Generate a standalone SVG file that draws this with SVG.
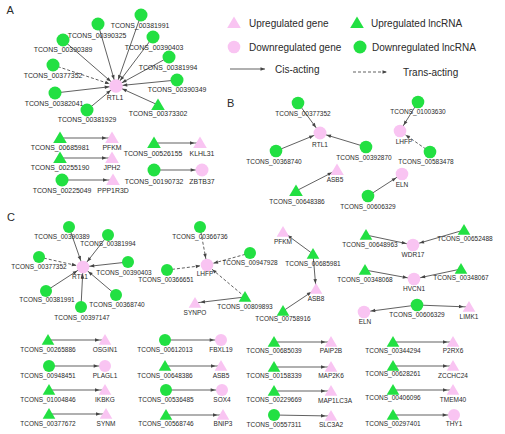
<svg xmlns="http://www.w3.org/2000/svg" width="505" height="434" viewBox="0 0 505 434">
<style>
text{font-family:"Liberation Sans",Arial,sans-serif;fill:#2a2a2a}
.na{font-size:6.9px;text-anchor:middle}
.nc{font-size:6.5px;text-anchor:middle}
.lg{font-size:10px}
.pl{font-size:11px}
.g{fill:#22e042}
.p{fill:#f9c4f2}
.s{stroke:#454545;stroke-width:0.85;fill:none}
.d{stroke:#454545;stroke-width:0.85;fill:none;stroke-dasharray:3 2}
</style>
<defs>
<path id="tri" d="M0,-6.5 L6.8,5 L-6.8,5 Z"/>
<path id="tris" d="M0,-6 L6.3,4.8 L-6.3,4.8 Z"/>
<marker id="ac" markerUnits="userSpaceOnUse" markerWidth="12" markerHeight="4" refX="11.3" refY="1.75" orient="auto" overflow="visible"><path d="M0,0 L4.5,1.75 L0,3.5 Z" fill="#454545"/></marker>
<marker id="at" markerUnits="userSpaceOnUse" markerWidth="12" markerHeight="4" refX="10" refY="1.75" orient="auto" overflow="visible"><path d="M0,0 L4.5,1.75 L0,3.5 Z" fill="#454545"/></marker>
<marker id="a0" markerUnits="userSpaceOnUse" markerWidth="5" markerHeight="4" refX="4.5" refY="1.75" orient="auto" overflow="visible"><path d="M0,0 L4.5,1.75 L0,3.5 Z" fill="#454545"/></marker>
</defs>
<rect width="505" height="434" fill="#fff"/>
<text class="pl" x="6.5" y="13.5">A</text>
<text class="pl" x="227" y="107">B</text>
<text class="pl" x="7" y="221">C</text>
<g id="legend">
<use href="#tri" class="p" x="234" y="23"/>
<text class="lg" x="249" y="27">Upregulated gene</text>
<use href="#tri" class="g" x="357" y="23"/>
<text class="lg" x="371" y="27">Upregulated lncRNA</text>
<circle class="p" cx="234" cy="47" r="6.3"/>
<text class="lg" x="249" y="50.5">Downregulated gene</text>
<circle class="g" cx="360" cy="47" r="6.5"/>
<text class="lg" x="372" y="50.5">Downregulated lncRNA</text>
<line class="s" x1="230" y1="69" x2="265" y2="69" marker-end="url(#a0)"/>
<text class="lg" x="275" y="73">Cis-acting</text>
<line class="d" x1="353" y1="72" x2="387" y2="72" marker-end="url(#a0)"/>
<text class="lg" x="403" y="75.5">Trans-acting</text>
</g>
<g id="connectors">
<line class="s" x1="141" y1="15" x2="116" y2="86" marker-end="url(#ac)"/>
<line class="s" x1="98" y1="24" x2="116" y2="86" marker-end="url(#ac)"/>
<line class="s" x1="63" y1="40" x2="116" y2="86" marker-end="url(#ac)"/>
<line class="s" x1="153" y1="37" x2="116" y2="86" marker-end="url(#ac)"/>
<line class="s" x1="169" y1="57" x2="116" y2="86" marker-end="url(#ac)"/>
<line class="d" x1="53" y1="65" x2="116" y2="86" marker-end="url(#ac)"/>
<line class="s" x1="177" y1="80" x2="116" y2="86" marker-end="url(#ac)"/>
<line class="s" x1="55" y1="93" x2="116" y2="86" marker-end="url(#ac)"/>
<line class="s" x1="87" y1="110" x2="116" y2="86" marker-end="url(#ac)"/>
<line class="s" x1="158" y1="105" x2="116" y2="86" marker-end="url(#ac)"/>
<line class="s" x1="60" y1="138" x2="112" y2="138" marker-end="url(#at)"/>
<line class="s" x1="60" y1="158" x2="112" y2="158" marker-end="url(#at)"/>
<line class="s" x1="62" y1="180" x2="113" y2="180" marker-end="url(#at)"/>
<line class="s" x1="154" y1="143" x2="200" y2="143" marker-end="url(#at)"/>
<line class="s" x1="154" y1="170" x2="202" y2="170" marker-end="url(#ac)"/>
<line class="s" x1="298" y1="103" x2="320" y2="133" marker-end="url(#ac)"/>
<line class="s" x1="276" y1="151" x2="320" y2="133" marker-end="url(#ac)"/>
<line class="s" x1="366" y1="147" x2="320" y2="133" marker-end="url(#ac)"/>
<line class="s" x1="296" y1="191" x2="337" y2="170" marker-end="url(#at)"/>
<line class="s" x1="418" y1="102" x2="400" y2="131" marker-end="url(#ac)"/>
<line class="d" x1="430" y1="152" x2="400" y2="131" marker-end="url(#ac)"/>
<line class="s" x1="368" y1="196" x2="402" y2="174" marker-end="url(#ac)"/>
<line class="s" x1="69" y1="227" x2="83" y2="267" marker-end="url(#ac)"/>
<line class="s" x1="108" y1="235" x2="83" y2="267" marker-end="url(#ac)"/>
<line class="d" x1="39" y1="257" x2="83" y2="267" marker-end="url(#ac)"/>
<line class="s" x1="128" y1="262" x2="83" y2="267" marker-end="url(#ac)"/>
<line class="s" x1="46" y1="291" x2="83" y2="267" marker-end="url(#ac)"/>
<line class="s" x1="116" y1="295" x2="83" y2="267" marker-end="url(#ac)"/>
<line class="s" x1="81" y1="307" x2="83" y2="267" marker-end="url(#ac)"/>
<line class="d" x1="200" y1="227" x2="207" y2="265" marker-end="url(#ac)"/>
<line class="d" x1="250" y1="253" x2="207" y2="265" marker-end="url(#ac)"/>
<line class="d" x1="167" y1="270" x2="207" y2="265" marker-end="url(#ac)"/>
<line class="d" x1="245" y1="297" x2="207" y2="265" marker-end="url(#ac)"/>
<line class="s" x1="245" y1="297" x2="195" y2="303" marker-end="url(#at)"/>
<line class="s" x1="313" y1="254" x2="283" y2="232" marker-end="url(#at)"/>
<line class="s" x1="313" y1="254" x2="316" y2="289" marker-end="url(#at)"/>
<line class="s" x1="283" y1="311" x2="316" y2="289" marker-end="url(#at)"/>
<line class="s" x1="366" y1="235" x2="413" y2="245" marker-end="url(#ac)"/>
<line class="s" x1="464" y1="230" x2="413" y2="245" marker-end="url(#ac)"/>
<line class="s" x1="365" y1="270" x2="414" y2="279" marker-end="url(#ac)"/>
<line class="s" x1="461" y1="269" x2="414" y2="279" marker-end="url(#ac)"/>
<line class="s" x1="417" y1="305" x2="364" y2="312" marker-end="url(#ac)"/>
<line class="s" x1="417" y1="305" x2="469" y2="307" marker-end="url(#at)"/>
<line class="s" x1="48" y1="340" x2="105" y2="340" marker-end="url(#at)"/>
<line class="s" x1="49" y1="366" x2="105" y2="366" marker-end="url(#ac)"/>
<line class="s" x1="49" y1="390" x2="105" y2="390" marker-end="url(#at)"/>
<line class="s" x1="49" y1="414" x2="106" y2="414" marker-end="url(#at)"/>
<line class="s" x1="165" y1="340" x2="221" y2="340" marker-end="url(#ac)"/>
<line class="s" x1="165" y1="366" x2="221" y2="366" marker-end="url(#at)"/>
<line class="s" x1="166" y1="390" x2="222" y2="390" marker-end="url(#ac)"/>
<line class="s" x1="166" y1="415" x2="223" y2="415" marker-end="url(#at)"/>
<line class="s" x1="274" y1="342" x2="331" y2="342" marker-end="url(#at)"/>
<line class="s" x1="274" y1="367" x2="331" y2="367" marker-end="url(#at)"/>
<line class="s" x1="274" y1="391" x2="331" y2="391" marker-end="url(#at)"/>
<line class="s" x1="274" y1="415" x2="331" y2="416" marker-end="url(#at)"/>
<line class="s" x1="393" y1="342" x2="453" y2="342" marker-end="url(#at)"/>
<line class="s" x1="393" y1="366" x2="453" y2="366" marker-end="url(#at)"/>
<line class="s" x1="393" y1="390" x2="453" y2="390" marker-end="url(#at)"/>
<line class="s" x1="393" y1="415" x2="454" y2="415" marker-end="url(#ac)"/>
</g>
<!-- Panel A -->
<g id="A-RTL1"><circle class="p" cx="116" cy="86" r="6.8"/><text class="na" x="115" y="99.5">RTL1</text></g>
<g id="A-TCONS_00381991"><circle class="g" cx="141" cy="15" r="6.5"/><text class="na" x="140" y="27.5">TCONS_00381991</text></g>
<g id="A-TCONS_00390325"><circle class="g" cx="98" cy="24" r="6.5"/><text class="na" x="97" y="37.5">TCONS_00390325</text></g>
<g id="A-TCONS_00390389"><circle class="g" cx="63" cy="40" r="6.5"/><text class="na" x="63" y="51.5">TCONS_00390389</text></g>
<g id="A-TCONS_00390403"><circle class="g" cx="153" cy="37" r="6.5"/><text class="na" x="154" y="49.5">TCONS_00390403</text></g>
<g id="A-TCONS_00381994"><circle class="g" cx="169" cy="57" r="6.5"/><text class="na" x="168" y="69.5">TCONS_00381994</text></g>
<g id="A-TCONS_00377352"><circle class="g" cx="53" cy="65" r="6.5"/><text class="na" x="53" y="77.5">TCONS_00377352</text></g>
<g id="A-TCONS_00390349"><circle class="g" cx="177" cy="80" r="6.5"/><text class="na" x="177" y="91.5">TCONS_00390349</text></g>
<g id="A-TCONS_00382041"><circle class="g" cx="55" cy="93" r="6.5"/><text class="na" x="54" y="105.5">TCONS_00382041</text></g>
<g id="A-TCONS_00381929"><circle class="g" cx="87" cy="110" r="6.5"/><text class="na" x="87" y="121.5">TCONS_00381929</text></g>
<g id="A-TCONS_00373302"><use href="#tri" class="g" x="158" y="105"/><text class="na" x="158" y="115.5">TCONS_00373302</text></g>
<g id="A-TCONS_00685981"><use href="#tri" class="g" x="60" y="138"/><text class="na" x="60" y="149.5">TCONS_00685981</text></g>
<g id="A-PFKM"><use href="#tri" class="p" x="112" y="138"/><text class="na" x="112" y="149.5">PFKM</text></g>
<g id="A-TCONS_00255190"><use href="#tri" class="g" x="60" y="158"/><text class="na" x="60" y="169.5">TCONS_00255190</text></g>
<g id="A-JPH2"><use href="#tri" class="p" x="112" y="158"/><text class="na" x="112" y="169.5">JPH2</text></g>
<g id="A-TCONS_00225049"><circle class="g" cx="62" cy="180" r="6.5"/><text class="na" x="62" y="192.5">TCONS_00225049</text></g>
<g id="A-PPP1R3D"><use href="#tri" class="p" x="113" y="180"/><text class="na" x="113" y="192.5">PPP1R3D</text></g>
<g id="A-TCONS_00526155"><use href="#tri" class="g" x="154" y="143"/><text class="na" x="153" y="155.5">TCONS_00526155</text></g>
<g id="A-KLHL31"><use href="#tri" class="p" x="200" y="143"/><text class="na" x="202" y="155.5">KLHL31</text></g>
<g id="A-TCONS_00190732"><circle class="g" cx="154" cy="170" r="6.5"/><text class="na" x="154" y="183.5">TCONS_00190732</text></g>
<g id="A-ZBTB37"><circle class="p" cx="202" cy="170" r="6.5"/><text class="na" x="202" y="183.5">ZBTB37</text></g>
<!-- Panel B -->
<g id="B-TCONS_00377352"><circle class="g" cx="298" cy="103" r="6.3"/><text class="nc" x="303" y="115.5">TCONS_00377352</text></g>
<g id="B-RTL1"><circle class="p" cx="320" cy="133" r="6.5"/><text class="nc" x="320" y="146.5">RTL1</text></g>
<g id="B-TCONS_00368740"><circle class="g" cx="276" cy="151" r="6.3"/><text class="nc" x="274" y="163.5">TCONS_00368740</text></g>
<g id="B-TCONS_00392870"><circle class="g" cx="366" cy="147" r="6.3"/><text class="nc" x="364" y="159.5">TCONS_00392870</text></g>
<g id="B-ASB5"><use href="#tri" class="p" x="337" y="170"/><text class="nc" x="335" y="181.5">ASB5</text></g>
<g id="B-TCONS_00648386"><use href="#tri" class="g" x="296" y="191"/><text class="nc" x="297" y="203.5">TCONS_00648386</text></g>
<g id="B-TCONS_01003630"><circle class="g" cx="418" cy="102" r="6.3"/><text class="nc" x="418" y="113.5">TCONS_01003630</text></g>
<g id="B-LHFP"><circle class="p" cx="400" cy="131" r="6.3"/><text class="nc" x="404" y="143.5">LHFP</text></g>
<g id="B-TCONS_00583478"><circle class="g" cx="430" cy="152" r="6.3"/><text class="nc" x="426" y="163.5">TCONS_00583478</text></g>
<g id="B-ELN"><circle class="p" cx="402" cy="174" r="6.3"/><text class="nc" x="402" y="186.5">ELN</text></g>
<g id="B-TCONS_00606329"><circle class="g" cx="368" cy="196" r="6.3"/><text class="nc" x="368" y="208.5">TCONS_00606329</text></g>
<!-- Panel C -->
<g id="C-RTL1"><circle class="p" cx="83" cy="267" r="6.3"/><text class="nc" x="80" y="278.5">RTL1</text></g>
<g id="C-TCONS_00390389"><circle class="g" cx="69" cy="227" r="6"/><text class="nc" x="62" y="238.5">TCONS_00390389</text></g>
<g id="C-TCONS_00381994"><circle class="g" cx="108" cy="235" r="6"/><text class="nc" x="108" y="245.5">TCONS_00381994</text></g>
<g id="C-TCONS_00377352"><circle class="g" cx="39" cy="257" r="6"/><text class="nc" x="39" y="268.5">TCONS_00377352</text></g>
<g id="C-TCONS_00390403"><circle class="g" cx="128" cy="262" r="6"/><text class="nc" x="124" y="274.5">TCONS_00390403</text></g>
<g id="C-TCONS_00381991"><circle class="g" cx="46" cy="291" r="6"/><text class="nc" x="47" y="301.5">TCONS_00381991</text></g>
<g id="C-TCONS_00368740"><circle class="g" cx="116" cy="295" r="6"/><text class="nc" x="117" y="306.5">TCONS_00368740</text></g>
<g id="C-TCONS_00397147"><circle class="g" cx="81" cy="307" r="6"/><text class="nc" x="82" y="319.5">TCONS_00397147</text></g>
<g id="C-TCONS_00366651"><circle class="g" cx="167" cy="270" r="6"/><text class="nc" x="166" y="281.5">TCONS_00366651</text></g>
<g id="C-LHFP"><circle class="p" cx="207" cy="265" r="6.3"/><text class="nc" x="205" y="275.5">LHFP</text></g>
<g id="C-TCONS_00366736"><circle class="g" cx="200" cy="227" r="6"/><text class="nc" x="200" y="238.5">TCONS_00366736</text></g>
<g id="C-TCONS_00947928"><circle class="g" cx="250" cy="253" r="6"/><text class="nc" x="250" y="264.5">TCONS_00947928</text></g>
<g id="C-TCONS_00809893"><use href="#tris" class="g" x="245" y="297"/><text class="nc" x="245" y="308.5">TCONS_00809893</text></g>
<g id="C-SYNPO"><use href="#tris" class="p" x="195" y="303"/><text class="nc" x="195" y="314.5">SYNPO</text></g>
<g id="C-PFKM"><use href="#tris" class="p" x="283" y="232"/><text class="nc" x="283" y="243.5">PFKM</text></g>
<g id="C-TCONS_00685981"><use href="#tris" class="g" x="313" y="254"/><text class="nc" x="313" y="265.5">TCONS_00685981</text></g>
<g id="C-ASB8"><use href="#tris" class="p" x="316" y="289"/><text class="nc" x="316" y="300.5">ASB8</text></g>
<g id="C-TCONS_00758916"><use href="#tris" class="g" x="283" y="311"/><text class="nc" x="283" y="321">TCONS_00758916</text></g>
<g id="C-TCONS_00648963"><use href="#tris" class="g" x="366" y="235"/><text class="nc" x="370" y="246.5">TCONS_00648963</text></g>
<g id="C-WDR17"><circle class="p" cx="413" cy="245" r="6.3"/><text class="nc" x="413" y="256.5">WDR17</text></g>
<g id="C-TCONS_00652488"><use href="#tris" class="g" x="464" y="230"/><text class="nc" x="465" y="240.5">TCONS_00652488</text></g>
<g id="C-TCONS_00348068"><use href="#tris" class="g" x="365" y="270"/><text class="nc" x="365" y="281.5">TCONS_00348068</text></g>
<g id="C-HVCN1"><circle class="p" cx="414" cy="279" r="6.3"/><text class="nc" x="414" y="290.5">HVCN1</text></g>
<g id="C-TCONS_00348067"><use href="#tris" class="g" x="461" y="269"/><text class="nc" x="461" y="279.5">TCONS_00348067</text></g>
<g id="C-TCONS_00606329"><circle class="g" cx="417" cy="305" r="6.3"/><text class="nc" x="417" y="316.5">TCONS_00606329</text></g>
<g id="C-ELN"><circle class="p" cx="364" cy="312" r="6.3"/><text class="nc" x="365" y="324">ELN</text></g>
<g id="C-LIMK1"><use href="#tris" class="p" x="469" y="307"/><text class="nc" x="469" y="318.5">LIMK1</text></g>
<g id="C-TCONS_00265886"><use href="#tris" class="g" x="48" y="340"/><text class="nc" x="48" y="351.5">TCONS_00265886</text></g>
<g id="C-OSGIN1"><use href="#tris" class="p" x="105" y="340"/><text class="nc" x="105" y="351.5">OSGIN1</text></g>
<g id="C-TCONS_00948451"><circle class="g" cx="49" cy="366" r="6"/><text class="nc" x="48" y="377.5">TCONS_00948451</text></g>
<g id="C-PLAGL1"><circle class="p" cx="105" cy="366" r="6"/><text class="nc" x="105" y="377.5">PLAGL1</text></g>
<g id="C-TCONS_01004846"><use href="#tris" class="g" x="49" y="390"/><text class="nc" x="48" y="401.5">TCONS_01004846</text></g>
<g id="C-IKBKG"><use href="#tris" class="p" x="105" y="390"/><text class="nc" x="105" y="401.5">IKBKG</text></g>
<g id="C-TCONS_00377672"><use href="#tris" class="g" x="49" y="414"/><text class="nc" x="48" y="425.5">TCONS_00377672</text></g>
<g id="C-SYNM"><use href="#tris" class="p" x="106" y="414"/><text class="nc" x="106" y="425.5">SYNM</text></g>
<g id="C-TCONS_00612013"><circle class="g" cx="165" cy="340" r="6"/><text class="nc" x="165" y="351.5">TCONS_00612013</text></g>
<g id="C-FBXL19"><circle class="p" cx="221" cy="340" r="6"/><text class="nc" x="221" y="351.5">FBXL19</text></g>
<g id="C-TCONS_00648386"><use href="#tris" class="g" x="165" y="366"/><text class="nc" x="165" y="377.5">TCONS_00648386</text></g>
<g id="C-ASB5"><use href="#tris" class="p" x="221" y="366"/><text class="nc" x="221" y="377.5">ASB5</text></g>
<g id="C-TCONS_00536485"><circle class="g" cx="166" cy="390" r="6"/><text class="nc" x="166" y="401.5">TCONS_00536485</text></g>
<g id="C-SOX4"><circle class="p" cx="222" cy="390" r="6"/><text class="nc" x="222" y="401.5">SOX4</text></g>
<g id="C-TCONS_00568746"><use href="#tris" class="g" x="166" y="415"/><text class="nc" x="166" y="426">TCONS_00568746</text></g>
<g id="C-BNIP3"><use href="#tris" class="p" x="223" y="415"/><text class="nc" x="223" y="426">BNIP3</text></g>
<g id="C-TCONS_00685039"><use href="#tris" class="g" x="274" y="342"/><text class="nc" x="274" y="352.5">TCONS_00685039</text></g>
<g id="C-PAIP2B"><use href="#tris" class="p" x="331" y="342"/><text class="nc" x="331" y="353">PAIP2B</text></g>
<g id="C-TCONS_00158339"><use href="#tris" class="g" x="274" y="367"/><text class="nc" x="274" y="377.5">TCONS_00158339</text></g>
<g id="C-MAP2K6"><use href="#tris" class="p" x="331" y="367"/><text class="nc" x="331" y="378">MAP2K6</text></g>
<g id="C-TCONS_00229669"><use href="#tris" class="g" x="274" y="391"/><text class="nc" x="274" y="401.5">TCONS_00229669</text></g>
<g id="C-MAP1LC3A"><use href="#tris" class="p" x="331" y="391"/><text class="nc" x="335" y="402.5">MAP1LC3A</text></g>
<g id="C-TCONS_00557311"><circle class="g" cx="274" cy="415" r="6"/><text class="nc" x="274" y="426.5">TCONS_00557311</text></g>
<g id="C-SLC3A2"><use href="#tris" class="p" x="331" y="416"/><text class="nc" x="331" y="427">SLC3A2</text></g>
<g id="C-TCONS_00344294"><use href="#tris" class="g" x="393" y="342"/><text class="nc" x="393" y="352.5">TCONS_00344294</text></g>
<g id="C-P2RX6"><use href="#tris" class="p" x="453" y="342"/><text class="nc" x="453" y="353">P2RX6</text></g>
<g id="C-TCONS_00628261"><use href="#tris" class="g" x="393" y="366"/><text class="nc" x="393" y="376">TCONS_00628261</text></g>
<g id="C-ZCCHC24"><use href="#tris" class="p" x="453" y="366"/><text class="nc" x="453" y="377.5">ZCCHC24</text></g>
<g id="C-TCONS_00406096"><use href="#tris" class="g" x="393" y="390"/><text class="nc" x="393" y="400">TCONS_00406096</text></g>
<g id="C-TMEM40"><use href="#tris" class="p" x="453" y="390"/><text class="nc" x="453" y="401.5">TMEM40</text></g>
<g id="C-TCONS_00297401"><use href="#tris" class="g" x="393" y="415"/><text class="nc" x="393" y="426">TCONS_00297401</text></g>
<g id="C-THY1"><circle class="p" cx="454" cy="415" r="6"/><text class="nc" x="454" y="426">THY1</text></g>
</svg>
